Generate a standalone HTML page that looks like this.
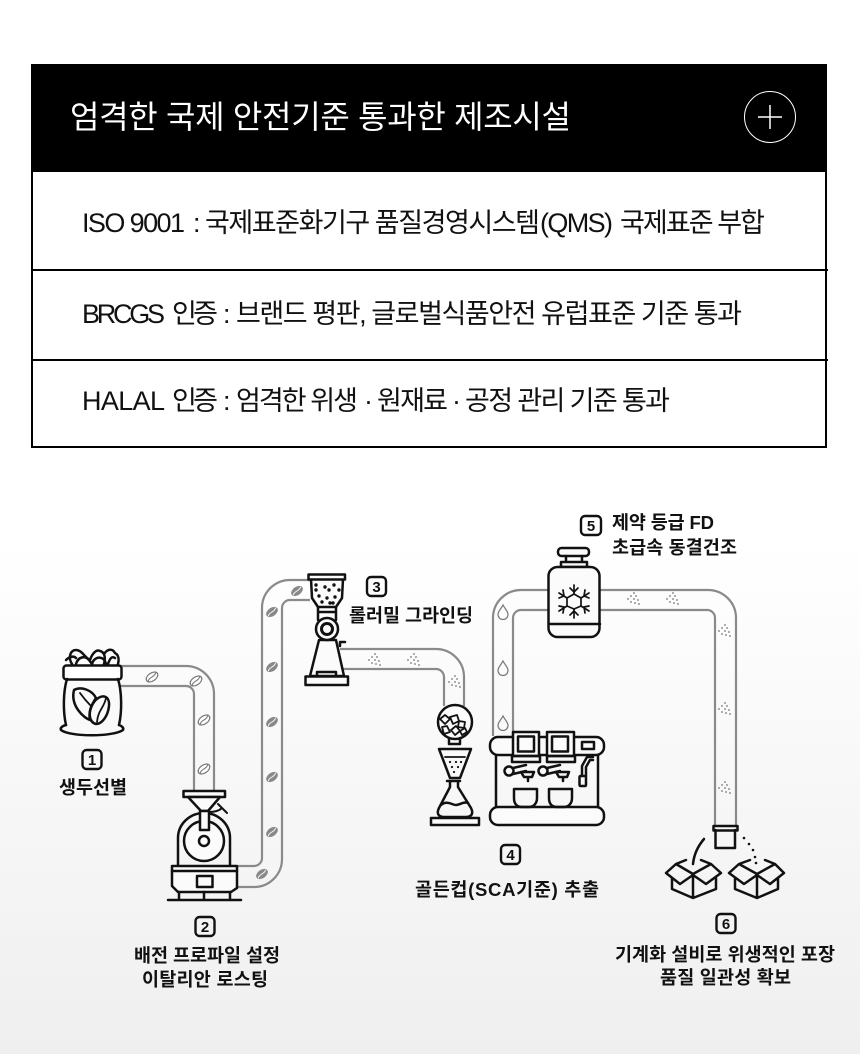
<!DOCTYPE html>
<html lang="ko"><head><meta charset="utf-8"><title>제조시설</title>
<style>
html,body{margin:0;padding:0;background:#fff}
svg{display:block}
text{font-family:"Liberation Sans","Noto Sans CJK KR",sans-serif}
.lb{font-size:18.5px;font-weight:700;fill:#111}
.n{font-size:15px;font-weight:700;fill:#111;text-anchor:middle}
.r{font-size:27px;fill:#111}
.p{fill:none;stroke:#8a8a8a;stroke-width:2.2}
.i{fill:none;stroke:#111;stroke-width:2.5;stroke-linejoin:round;stroke-linecap:round}
.w{fill:#fbfbfb;stroke:#111;stroke-width:2.5;stroke-linejoin:round}
</style></head><body>
<svg width="860" height="1054" viewBox="0 0 860 1054" xmlns="http://www.w3.org/2000/svg">
<defs>
<linearGradient id="bg" x1="0" y1="0" x2="0" y2="1"><stop offset="0" stop-color="#fff"/><stop offset="1" stop-color="#efefef"/></linearGradient>
<g id="bean"><ellipse rx="6.500" ry="4" fill="#fcfcfc" stroke="#777" stroke-width="1.200"/><path d="M-5.500 1.500C-3-2 2 2 5.500-1.500" fill="none" stroke="#777" stroke-width="1"/></g>
<g id="dbean"><ellipse rx="6.500" ry="4.200" fill="#888"/><path d="M-5.500 1.500C-3-2 2 2 5.500-1.500" fill="none" stroke="#eee" stroke-width="1"/></g>
<g id="pw" fill="#777"><circle cx="0" cy="-6" r=".9"/><circle cx="-3" cy="-3" r=".9"/><circle cx="2" cy="-3" r=".9"/><circle cx="-6" cy="0" r=".9"/><circle cx="0" cy="0" r=".9"/><circle cx="4" cy="1" r=".9"/><circle cx="-3" cy="3" r=".9"/><circle cx="1" cy="4" r=".9"/><circle cx="5" cy="5" r=".9"/></g>
<path id="drop" d="M0-7C-2-3-5-1-5 2.500a5 5 0 0 0 10 0C5-1 2-3 0-7Z" fill="none" stroke="#777" stroke-width="1.200"/>
</defs>
<rect width="860" height="1054" fill="#fff"/>
<rect y="540" width="860" height="514" fill="url(#bg)"/>

<!-- table -->
<rect x="31" y="64" width="796" height="108" fill="#000"/>
<text x="70" y="128" font-size="32" fill="#fff" textLength="501" lengthAdjust="spacing">엄격한 국제 안전기준 통과한 제조시설</text>
<circle cx="770" cy="117" r="25.500" fill="none" stroke="#fff" stroke-width="1"/>
<path d="M770 105V129M758 117H782" stroke="#fff" stroke-width="1.500"/>
<path d="M32 172V447H826V172" fill="none" stroke="#000" stroke-width="2"/>
<path d="M32 270H828M32 360H828" stroke="#000" stroke-width="2"/>

<text class="r" x="82" y="232" textLength="103" lengthAdjust="spacing">ISO 9001</text>
<text class="r" x="193" y="232">:</text>
<text class="r" x="205" y="232" textLength="335" lengthAdjust="spacing">국제표준화기구 품질경영시스템</text>
<text class="r" x="540" y="232" textLength="73" lengthAdjust="spacing">(QMS)</text>
<text class="r" x="620" y="232" textLength="145" lengthAdjust="spacing">국제표준 부합</text>

<text class="r" x="82" y="323" textLength="83" lengthAdjust="spacing">BRCGS</text>
<text class="r" x="172" y="323" textLength="46" lengthAdjust="spacing">인증</text>
<text class="r" x="223" y="323">:</text>
<text class="r" x="236" y="323" textLength="506" lengthAdjust="spacing">브랜드 평판, 글로벌식품안전 유럽표준 기준 통과</text>

<text class="r" x="82" y="410" textLength="83" lengthAdjust="spacing">HALAL</text>
<text class="r" x="172" y="410" textLength="46" lengthAdjust="spacing">인증</text>
<text class="r" x="223" y="410">:</text>
<text class="r" x="236" y="410" textLength="122" lengthAdjust="spacing">엄격한 위생</text>
<text class="r" x="364" y="410">·</text>
<text class="r" x="377" y="410" textLength="71" lengthAdjust="spacing">원재료</text>
<text class="r" x="452" y="410">·</text>
<text class="r" x="465" y="410" textLength="205" lengthAdjust="spacing">공정 관리 기준 통과</text>

<!-- pipes -->
<path class="p" d="M120 666H186a28 28 0 0 1 28 28V790M120 686H186a8 8 0 0 1 8 8V790"/>
<path class="p" d="M238 866H254a8 8 0 0 0 8-8V608a28 28 0 0 1 28-28H310M238 887H254a28 28 0 0 0 28-28V608a8 8 0 0 1 8-8H310"/>
<path class="p" d="M340 649H436a28 28 0 0 1 28 28V706M340 669H436a8 8 0 0 1 8 8V706"/>
<path class="p" d="M493 736V618a28 28 0 0 1 28-28H550M513 736V618a8 8 0 0 1 8-8H550"/>
<path class="p" d="M598 590H708a28 28 0 0 1 28 28V826M598 610H708a8 8 0 0 1 7 8V826"/>

<g transform="translate(152 677) rotate(-35)"><use href="#bean"/></g>
<g transform="translate(196 681) rotate(-35)"><use href="#bean"/></g>
<g transform="translate(204 720) rotate(-35)"><use href="#bean"/></g>
<g transform="translate(204 769) rotate(-35)"><use href="#bean"/></g>
<g transform="translate(272 612) rotate(-35)"><use href="#dbean"/></g>
<g transform="translate(272 667) rotate(-35)"><use href="#dbean"/></g>
<g transform="translate(272 722) rotate(-35)"><use href="#dbean"/></g>
<g transform="translate(272 777) rotate(-35)"><use href="#dbean"/></g>
<g transform="translate(272 832) rotate(-35)"><use href="#dbean"/></g>
<g transform="translate(262 874) rotate(-35)"><use href="#dbean"/></g>
<g transform="translate(297 591) rotate(-35)"><use href="#dbean"/></g>
<use href="#pw" x="375" y="660"/><use href="#pw" x="414" y="660"/><use href="#pw" x="455" y="682"/>
<use href="#pw" x="634" y="599"/><use href="#pw" x="673" y="599"/>
<use href="#pw" x="725" y="631"/><use href="#pw" x="725" y="709"/><use href="#pw" x="725" y="788"/>
<use href="#drop" x="503" y="612"/><use href="#drop" x="503" y="668"/><use href="#drop" x="503" y="723"/>

<!-- bag -->
<g class="i">
<path d="M72 664C68 658 70 650 76 650C82 650 85 658 90 660C92 654 96 649 100 651C104 652 106 656 104 664"/>
<path d="M66 660C70 656 74 656 76 658M76 664C78 657 85 655 89 660C92 664 92 664 92 664M92 664C94 656 104 655 106 664M104 654C108 648 113 649 115 653C119 655 119 660 118 664M108 664C110 658 112 656 115 658"/>
<rect x="63.500" y="665.500" width="58" height="14" rx="3" fill="#fff"/>
<path d="M67 679C63 692 63 712 66 725M118 679C122 692 122 712 119 725"/>
<path d="M66 725C62 726 60 728 61 730C70 737 113 737 123 730C124 728 122 726 119 725"/>
<path d="M74 690C81 686 92 690 96 698C92 704 88 712 90 720C84 718 70 706 74 690Z"/>
<path d="M80 693C85 700 87 702 91 706" stroke-width="1.800"/>
<path d="M94 702C100 694 110 694 109 706C108 716 102 724 96 724C88 722 88 710 94 702Z"/>
<path d="M106 698C104 708 98 710 97 722" stroke-width="1.800"/>
</g>

<!-- roaster -->
<g class="i">
<path d="M178 866V838a26 25 0 0 1 52 0V866"/>
<circle cx="204" cy="841" r="20" fill="#fbfbfb"/>
<circle cx="204" cy="841" r="5"/>
<rect x="183.500" y="791" width="41.500" height="6" class="w"/>
<path class="w" d="M188 797L201 811H208L220 797Z"/>
<rect x="200" y="811" width="9" height="19" class="w"/>
<path d="M209 812C214 812 219 811 222 808M218 804L227 813" stroke-width="2"/>
<path class="w" d="M172 866H237V888L231 892H178L172 886Z"/>
<path d="M172 871H237"/>
<rect x="197" y="876" width="15.500" height="11"/>
<path d="M179 892V900M204 892V900M230 892V900M168 900H241"/>
</g>

<!-- grinder -->
<g class="i">
<path class="w" d="M311 579L312 598L318 607H336L342 598L343 579Z"/>
<rect x="308.500" y="574.500" width="36.500" height="5" class="w"/>
<path d="M318 607V620M336 607V620M318 612H336"/>
<path class="w" d="M319 640L310 676H344L336 640Z"/>
<circle cx="327" cy="629" r="11" fill="#fbfbfb"/>
<circle cx="327" cy="629" r="5.500" stroke-width="3"/>
<path d="M340 646V642H345"/>
<rect x="305.500" y="676.500" width="42.500" height="8.500" class="w"/>
<path d="M317 676V672H336V676"/>
</g>
<g fill="#111"><circle cx="316" cy="585" r="1.700"/><circle cx="325" cy="587" r="1.700"/><circle cx="334" cy="585" r="1.700"/><circle cx="339" cy="590" r="1.700"/><circle cx="316" cy="590" r="1.700"/><circle cx="329" cy="590" r="1.700"/><circle cx="319" cy="596" r="1.700"/><circle cx="327" cy="598" r="1.700"/><circle cx="335" cy="597" r="1.700"/><circle cx="322" cy="602" r="1.700"/><circle cx="330" cy="603" r="1.700"/><circle cx="333" cy="603" r="1.700"/></g>

<!-- globe + chemex -->
<g class="i">
<circle cx="455" cy="722" r="17" fill="#fbfbfb"/>
<path d="M449 738V744H460V738"/>
<path d="M440 719l5-4 5 4-5 5zM450 717l7-2 2 6-6 3zM459 721l6 1-1 6-6-1zM442 727l5-1 3 6-6 2zM451 730l5-4 4 5-5 4zM460 731l5-3 2 4-5 3z" stroke-width="1.800"/>
<path d="M439 749H471L460 778H450Z"/>
<path d="M445 757H465" stroke-width="1.800"/>
<path d="M447 781H460M450 781V787L439 808C436 814 439 817 444 817H466C471 817 474 814 471 808L458 787V781"/>
<path d="M441 805C447 800 452 805 456 805C460 805 464 801 468 803"/>
<rect x="431" y="818" width="48" height="7" class="w"/>
</g>
<g fill="#111"><circle cx="450" cy="762" r="1.100"/><circle cx="456" cy="762" r="1.100"/><circle cx="461" cy="762" r="1.100"/><circle cx="452" cy="767" r="1.100"/><circle cx="458" cy="767" r="1.100"/><circle cx="454" cy="772" r="1.100"/></g>

<!-- espresso -->
<g class="i">
<path d="M496 755V807M598 755V807"/>
<rect x="490" y="737" width="114" height="18" rx="8" class="w"/>
<rect x="490" y="807" width="114" height="18" rx="8" class="w"/>
<rect x="513" y="732" width="26" height="24" class="w"/>
<rect x="518" y="736.500" width="16" height="15"/>
<rect x="547" y="732" width="27" height="24" class="w"/>
<rect x="552" y="736.500" width="16" height="15"/>
<rect x="512" y="756" width="28" height="6" />
<rect x="547" y="756" width="28" height="6" />
<rect x="582" y="742" width="12" height="7"/>
<circle cx="509" cy="771" r="4.500"/><path d="M513 768L526 765M513 774L526 771"/>
<circle cx="543" cy="771" r="4.500"/><path d="M547 768L560 765M547 774L560 771"/>
<path d="M521 772H534L532 777H524ZM556 772H569L567 777H559ZM528 777V781M563 777V781"/>
<path d="M514 789H537V798C537 804 533 807 529 807H522C517 807 514 804 514 798Z"/>
<path d="M549 789H572V798C572 804 568 807 564 807H557C552 807 549 804 549 798Z"/>
<path d="M593 757H587L582 766V776M593 760H590L586 767V776"/>
<rect x="579.500" y="776" width="6.500" height="10" rx="1"/>
</g>

<!-- bottle + snowflake -->
<g class="i">
<rect x="558" y="548" width="31" height="8" rx="3.500" class="w"/>
<path d="M566 556V562M582 556V562"/>
<rect x="561" y="562" width="26" height="5" class="w"/>
<rect x="548.500" y="567" width="51" height="70" rx="9" class="w"/>
<path d="M549 624H600"/>
<g stroke-width="1.700"><path d="M574 585V594M574 609V618M559 593L567 598M581 606L589 611M589 593L581 598M567 606L559 611"/>
<path d="M570 588L574 592L578 588M570 615L574 611L578 615M559 598L564 596L563 590M589 598L584 596L585 590M559 606L564 607L563 613M589 606L584 607L585 613"/>
<path d="M574 594L581 598V606L574 609L567 606V598Z"/></g>
</g>

<!-- cup & boxes -->
<g class="i">
<rect x="713.500" y="826" width="24" height="4.500" class="w"/>
<path d="M715.500 830V848H735V830"/>
<path d="M704 839C698 846 694 854 693 864"/>
<path d="M676 864L693 874L711 864L721 873L706 884L693 875L680 884L666 873ZM676 864L686 860M701 860L711 864M672 878V889L693 898L716 889V878M693 875V898"/>
<path d="M739 864L757 874L775 864L784 873L770 884L757 875L744 884L729 873ZM739 864L750 860M765 860L775 864M735 878V889L757 898L778 889V878M757 875V898"/>
</g>
<g fill="#111"><circle cx="744" cy="838" r="1.300"/><circle cx="749" cy="844" r="1.300"/><circle cx="753" cy="850" r="1.300"/><circle cx="755" cy="857" r="1.300"/><circle cx="756" cy="863" r="1.300"/></g>

<!-- badges -->
<g fill="none" stroke="#111" stroke-width="2.400">
<rect x="82.500" y="750" width="19" height="19" rx="4"/>
<rect x="195.500" y="917" width="19" height="19" rx="4"/>
<rect x="367" y="577" width="19" height="19" rx="4"/>
<rect x="501" y="845" width="19" height="19" rx="4"/>
<rect x="581" y="516" width="20" height="19" rx="4"/>
<rect x="716.500" y="914" width="19" height="19" rx="4"/>
</g>
<text class="n" x="92" y="765">1</text>
<text class="n" x="205" y="932">2</text>
<text class="n" x="376.500" y="592">3</text>
<text class="n" x="510.500" y="860">4</text>
<text class="n" x="591" y="531">5</text>
<text class="n" x="726" y="929">6</text>

<!-- labels -->
<text class="lb" x="59" y="794" textLength="68" lengthAdjust="spacing">생두선별</text>
<text class="lb" x="134" y="962" textLength="146" lengthAdjust="spacing">배전 프로파일 설정</text>
<text class="lb" x="142" y="986" textLength="126" lengthAdjust="spacing">이탈리안 로스팅</text>
<text class="lb" x="349" y="622" textLength="124" lengthAdjust="spacing">롤러밀 그라인딩</text>
<text class="lb" x="415" y="896" textLength="184" lengthAdjust="spacing">골든컵(SCA기준) 추출</text>
<text class="lb" x="612" y="529" textLength="102" lengthAdjust="spacing">제약 등급 FD</text>
<text class="lb" x="612" y="554" textLength="125" lengthAdjust="spacing">초급속 동결건조</text>
<text class="lb" x="615" y="961" textLength="220" lengthAdjust="spacing">기계화 설비로 위생적인 포장</text>
<text class="lb" x="660" y="984" textLength="131" lengthAdjust="spacing">품질 일관성 확보</text>
</svg>
</body></html>
